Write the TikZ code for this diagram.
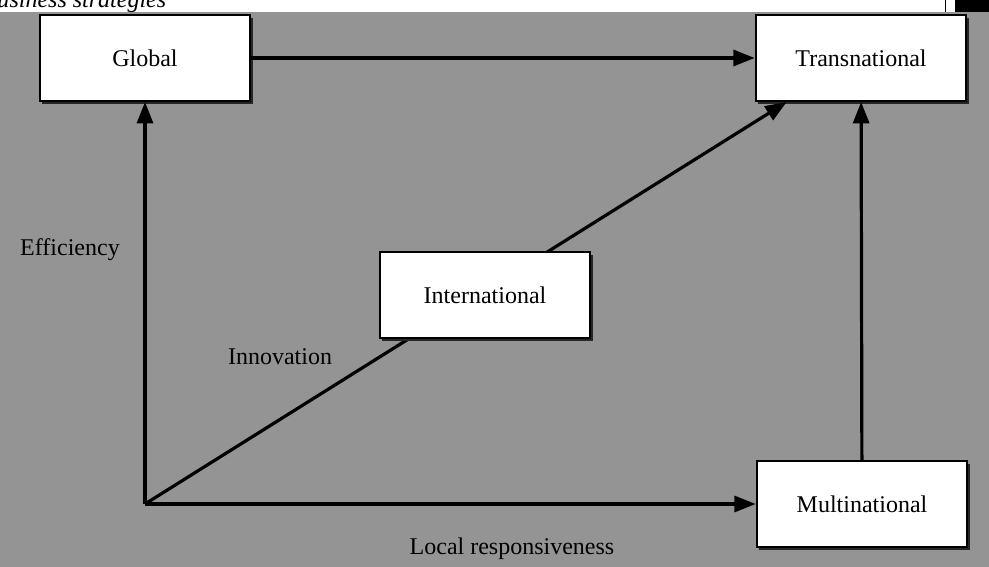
\documentclass[tikz,border=0pt]{standalone}
\usepackage{fontspec}
\setmainfont{Liberation Serif}
\usetikzlibrary{arrows.meta,shadows}

\tikzset{every picture/.style={line width=0.75pt}}
\tikzset{
  stratbox/.style={draw=black, line width=1.5pt, fill=white, minimum width=158pt, minimum height=64.5pt, inner sep=0pt, font=\fontsize{18}{20}\selectfont, drop shadow={shadow xshift=2pt, shadow yshift=-2pt, fill=black!85, opacity=1}},
  axislabel/.style={inner sep=0.75pt, font=\fontsize{18}{20}\selectfont},
  thickarrow/.style={line width=2.4pt, -{Triangle[length=16pt,width=12pt]}},
}

\begin{document}
\begin{tikzpicture}[x=0.75pt,y=0.75pt,yscale=-1,xscale=1]
\useasboundingbox (0,0) rectangle (989,567);
\fill[white] (0,0) rectangle (989,567);
%screened backdrop
\fill[black!42] (0,12) rectangle (989,567);
\fill[black] (955,0) rectangle (989,12);
\draw (945,0) -- (945,12);

% Text Node
\node[anchor=base west, inner sep=0pt, font=\itshape\fontsize{18}{20}\selectfont] (header) at (-3,8) {usiness strategies};

%Boxes
\node[stratbox] (global) at (145,58) {Global};
\node[stratbox] (trans) at (861,58) {Transnational};
\node[stratbox] (multi) at (862,504) {Multinational};
\coordinate (origin) at (global |- multi);

% Connection
\draw[thickarrow] (origin) -- (global);
\draw[thickarrow] (origin) -- (multi);
\draw[thickarrow] (global) -- (trans);
\draw[thickarrow] (multi) -- (trans);
\draw[thickarrow] (origin) -- ([xshift=24pt]trans.south west);

\node[stratbox] (inter) at (485,295) {International};

% Text Node
\node[axislabel] (eff) at (70,250) {Efficiency};
% Text Node
\node[axislabel] (inno) at (280,357) {Innovation};
% Text Node
\node[axislabel] (local) at (512,549) {Local responsiveness};

\end{tikzpicture}
\end{document}
